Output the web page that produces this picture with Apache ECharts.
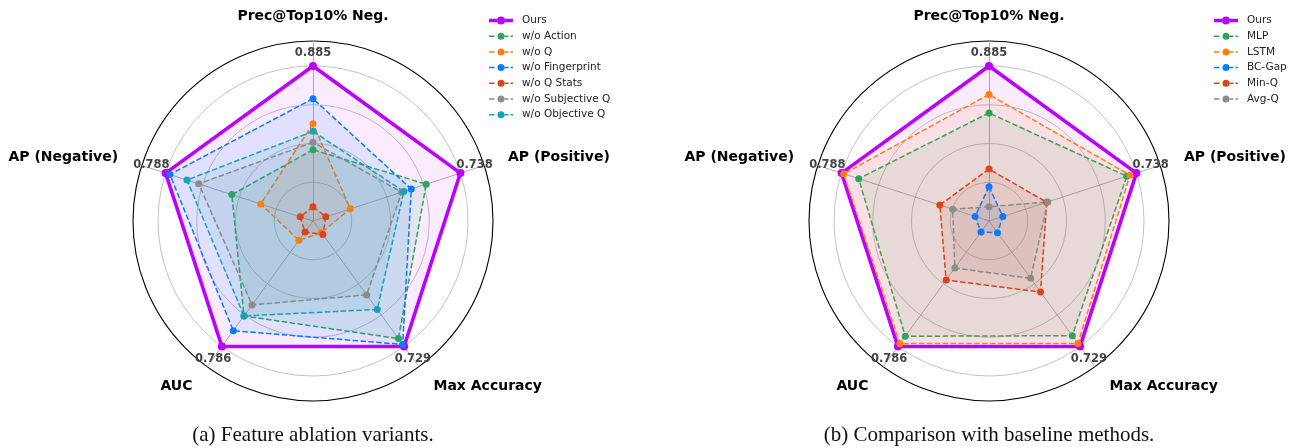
<!DOCTYPE html>
<html>
<head>
<meta charset="utf-8">
<script src="https://cdn.jsdelivr.net/npm/echarts@6/dist/echarts.min.js"></script>
<style>
  html, body { margin: 0; padding: 0; background: #fff; }
  #chart { width: 1298px; height: 448px; }
</style>
</head>
<body>
<div id="chart"></div>
<script>
// Metric axes, listed counter-clockwise starting at the top
const indicatorNames = ['Prec@Top10% Neg.', 'AP (Negative)', 'AUC', 'Max Accuracy', 'AP (Positive)'];
// Value at the centre of each axis
const axisMin = [0.70, 0.65, 0.65, 0.60, 0.60];

// Full model scores (same in both panels)
const oursScores = [0.885, 0.788, 0.786, 0.729, 0.738];

// (a) feature ablation variants
const ablationNames = ['Ours', 'w/o Action', 'w/o Q', 'w/o Fingerprint', 'w/o Q Stats', 'w/o Subjective Q', 'w/o Objective Q'];
const woAction       = [0.785, 0.726, 0.753, 0.721, 0.706];
const woQ            = [0.816, 0.699, 0.671, 0.612, 0.635];
const woFingerprint  = [0.846, 0.784, 0.769, 0.727, 0.692];
const woQStats       = [0.717, 0.662, 0.662, 0.614, 0.612];
const woSubjectiveQ  = [0.794, 0.757, 0.741, 0.676, 0.683];
const woObjectiveQ   = [0.807, 0.768, 0.753, 0.691, 0.685];

// (b) baseline methods
const baselineNames = ['Ours', 'MLP', 'LSTM', 'BC-Gap', 'Min-Q', 'Avg-Q'];
const mlp   = [0.829, 0.772, 0.775, 0.718, 0.729];
const lstm  = [0.851, 0.786, 0.783, 0.726, 0.732];
const bcGap = [0.741, 0.663, 0.662, 0.612, 0.613];
const minQ  = [0.762, 0.696, 0.714, 0.673, 0.654];
const avgQ  = [0.717, 0.684, 0.701, 0.659, 0.655];

const captions = ['(a) Feature ablation variants.', '(b) Comparison with baseline methods.'];

const C = {
  purple: '#bb00ff', green: '#2ca65e', orange: '#ff7f0e', blue: '#0a7bff',
  red: '#e0421c', gray: '#8c8c8c', teal: '#17a2b8'
};

const ablationSeries = [
  [oursScores, C.purple], [woAction, C.green], [woQ, C.orange], [woFingerprint, C.blue],
  [woQStats, C.red], [woSubjectiveQ, C.gray], [woObjectiveQ, C.teal]
];
const baselineSeries = [
  [oursScores, C.purple], [mlp, C.green], [lstm, C.orange], [bcGap, C.blue],
  [minQ, C.red], [avgQ, C.gray]
];

const centers = [[313, 221], [989, 221]];

// score label placement: nudge the top one down and the two upper side ones up
function scoreLabel(value) {
  const i = oursScores.findIndex(v => v.toFixed(3) === value);
  if (i === 0) return '{top|' + value + '}';
  if (i === 1 || i === 4) return '{up|' + value + '}';
  return '{plain|' + value + '}';
}
const scoreRich = {
  top: { padding: [4, 0, 0, 0] },
  up: { padding: [0, 0, 7, 0] },
  plain: { padding: 0 }
};

function radarsFor(center) {
  const hidden = { show: false };
  return [
    // outer frame, spokes and axis titles
    {
      center, radius: 180, startAngle: 90, shape: 'circle', splitNumber: 1, nameGap: 25,
      indicator: indicatorNames.map(n => ({ name: n, min: 0, max: 1 })),
      axisName: { color: '#000', fontWeight: 'bold', fontSize: 14, fontFamily: 'DejaVu Sans', verticalAlign: 'middle' },
      axisLine: { show: true, lineStyle: { color: '#a8a8a8', width: 0.9 } },
      splitLine: { show: true, lineStyle: { color: '#000', width: 1.1 } },
      splitArea: hidden, axisTick: hidden, axisLabel: hidden
    },
    // value scale with the grey rings
    {
      center, radius: 155, startAngle: 90, shape: 'circle', splitNumber: 4,
      indicator: indicatorNames.map((n, i) => ({ name: n, min: axisMin[i], max: oursScores[i] })),
      axisName: hidden, axisLine: hidden,
      splitLine: { show: true, lineStyle: { color: '#bcbcbc', width: 0.9 } },
      splitArea: hidden, axisTick: hidden, axisLabel: hidden
    },
    // score labels of the full model
    {
      center, radius: 170, startAngle: 90, shape: 'circle', splitNumber: 1, nameGap: 0,
      indicator: oursScores.map(v => ({ name: v.toFixed(3), min: 0, max: 1 })),
      axisName: {
        color: '#444', fontWeight: 'bold', fontSize: 11.5, fontFamily: 'DejaVu Sans',
        align: 'center', verticalAlign: 'middle', formatter: scoreLabel,
        rich: Object.fromEntries(Object.entries(scoreRich).map(([k, s]) => [k, Object.assign({
          color: '#444', fontWeight: 'bold', fontSize: 11.5, fontFamily: 'DejaVu Sans'
        }, s)]))
      },
      axisLine: hidden, splitLine: hidden, splitArea: hidden, axisTick: hidden, axisLabel: hidden
    }
  ];
}

function seriesFor(names, list, radarIndex) {
  return list.map(([values, color], i) => {
    const ours = i === 0;
    return {
      type: 'radar', name: names[i], radarIndex, silent: true,
      symbol: 'circle', symbolSize: ours ? 8 : 7,
      lineStyle: { color, width: ours ? 3.5 : 1.5, type: ours ? 'solid' : [5.5, 2.4] },
      itemStyle: { color },
      areaStyle: { color, opacity: ours ? 0.08 : 0.1 },
      data: [{ name: names[i], value: values }]
    };
  });
}

const OURS_ICON = 'path://M0 2.2h8.2v3.6h-8.2z M15.8 2.2h8.2v3.6h-8.2z M8 4a4 4 0 1 0 8 0a4 4 0 1 0 -8 0z';
const DASH_ICON = 'path://M0 3.25h5.5v1.5h-5.5z M8.5 4a3.5 3.5 0 1 0 7 0a3.5 3.5 0 1 0 -7 0z M15.6 3.25h3.9v1.5h-3.9z M21.5 3.25h2.5v1.5h-2.5z';

function legendFor(names, left) {
  return {
    orient: 'vertical', left, top: 10, itemWidth: 24, itemHeight: 8, itemGap: 4.7,
    selectedMode: false,
    data: names.map(n => ({ name: n, icon: n === 'Ours' ? OURS_ICON : DASH_ICON })),
    itemStyle: { borderWidth: 0 },
    textStyle: { fontSize: 10.5, color: '#222', fontFamily: 'DejaVu Sans', padding: [0, 0, 0, 4] }
  };
}

const chart = echarts.init(document.getElementById('chart'), null, { renderer: 'canvas' });
chart.setOption({
  animation: false,
  backgroundColor: '#fff',
  textStyle: { fontFamily: 'DejaVu Sans' },
  radar: [...radarsFor(centers[0]), ...radarsFor(centers[1])],
  legend: [legendFor(ablationNames, 484), legendFor(baselineNames, 1209)],
  series: [...seriesFor(ablationNames, ablationSeries, 1), ...seriesFor(baselineNames, baselineSeries, 4)],
  graphic: captions.map((t, i) => ({
    type: 'text', x: centers[i][0], y: 435, silent: true,
    style: { text: t, align: 'center', verticalAlign: 'middle', fill: '#111',
             font: '21px "Liberation Serif", serif' }
  }))
});
</script>
</body>
</html>
